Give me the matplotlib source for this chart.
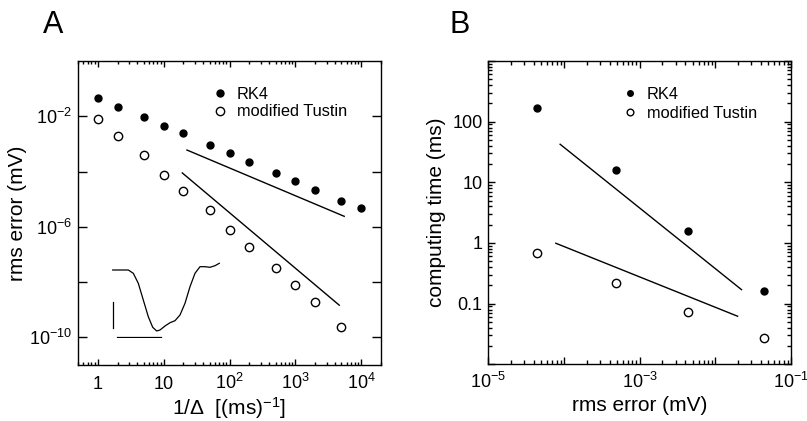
import matplotlib
matplotlib.use("Agg")
import matplotlib.pyplot as plt
from matplotlib.lines import Line2D
from matplotlib.ticker import FixedLocator, FixedFormatter, LogLocator, NullFormatter, NullLocator

plt.rcParams['font.family'] = ['Liberation Sans', 'DejaVu Sans']
plt.rcParams['mathtext.fontset'] = 'custom'
plt.rcParams['mathtext.rm'] = 'Liberation Sans'
plt.rcParams['mathtext.it'] = 'Liberation Sans:italic'
plt.rcParams['mathtext.bf'] = 'Liberation Sans:bold'
plt.rcParams['axes.linewidth'] = 1.0

# --- panel A: rms error vs 1/step ---
inv_dt = [1, 2, 5, 10, 20, 50, 100, 200, 500, 1000, 2000, 5000, 10000]
err_rk4 = [4.4e-2, 2.2e-2, 9.5e-3, 4.4e-3, 2.4e-3, 8.9e-4, 4.8e-4, 2.2e-4,
           8.7e-5, 4.4e-5, 2.2e-5, 8.9e-6, 5.0e-6]
inv_dt_tustin = [1, 2, 5, 10, 20, 50, 100, 200, 500, 1000, 2000, 5000]
err_tustin = [8.3e-3, 1.9e-3, 3.9e-4, 7.8e-5, 2.0e-5, 4.0e-6, 7.8e-7,
              1.9e-7, 3.2e-8, 7.6e-9, 1.9e-9, 2.3e-10]
fit_a_rk4_x = [22.6, 5525]
fit_a_rk4_y = [6.0e-4, 2.4e-6]
fit_a_tus_x = [19.2, 4645]
fit_a_tus_y = [8.9e-5, 1.46e-9]

# inset voltage trace (arbitrary units) and its scale bars
trace_t = [0, 15.6, 20.6, 25.6, 30.6, 35.6, 40, 44, 47.3, 52.3, 57.3, 62.3,
           67.3, 72.3, 77.3, 82.3, 87.3, 92.3, 97.3, 102.3, 106.6]
trace_v = [0, 0, -3.3, -13.3, -30, -46.7, -57.3, -61, -60, -56, -52.7, -50.7,
           -45, -33.3, -16.7, -3.3, 3.3, 3.3, 2.7, 4.3, 6.7]
vbar_t = [0.6, 0.6]
vbar_v = [-31.7, -58.3]
hbar_t = [4.6, 48]
hbar_v = [-67.3, -67.3]

# --- panel B: computing time vs rms error ---
b_err_rk4 = [4.4e-5, 4.8e-4, 4.4e-3, 4.4e-2]
b_time_rk4 = [170, 16.1, 1.6, 0.16]
b_err_tustin = [4.4e-5, 4.8e-4, 4.4e-3, 4.4e-2]
b_time_tustin = [0.68, 0.22, 0.074, 0.027]
fit_b_rk4_x = [8.9e-5, 2.22e-2]
fit_b_rk4_y = [42.4, 0.17]
fit_b_tus_x = [7.8e-5, 1.97e-2]
fit_b_tus_y = [0.99, 0.062]

W, H = 807, 421
fig = plt.figure(figsize=(W / 100, H / 100), dpi=100)


def box(l, t, r, b):
    return [l / W, 1 - b / H, (r - l) / W, (b - t) / H]


axA = fig.add_axes(box(78, 61, 381, 365))
axB = fig.add_axes(box(488.3, 61, 791, 364.3))

mk_fill = dict(marker='o', ms=5, color='black', ls='none', mec='black')
mk_open = dict(marker='o', ms=6, mfc='white', mec='black', mew=1.0, ls='none')

TICK_FS = 13
LABEL_FS = 15
LEG_FS = 11.8

# panel A
axA.plot(inv_dt, err_rk4, **mk_fill)
axA.plot(inv_dt_tustin, err_tustin, **mk_open)
axA.plot(fit_a_rk4_x, fit_a_rk4_y, color='black', lw=1.0)
axA.plot(fit_a_tus_x, fit_a_tus_y, color='black', lw=1.0)
axA.set_xscale('log')
axA.set_yscale('log')
axA.set_xlim(0.5, 2e4)
axA.set_ylim(1e-11, 1)
axA.xaxis.set_major_locator(FixedLocator([1, 10, 100, 1000, 10000]))
axA.xaxis.set_major_formatter(FixedFormatter(['1', '10', '$10^{2}$', '$10^{3}$', '$10^{4}$']))
axA.xaxis.set_minor_locator(LogLocator(base=10, subs=range(2, 10), numticks=20))
axA.xaxis.set_minor_formatter(NullFormatter())
axA.yaxis.set_major_locator(FixedLocator([1e-2, 1e-4, 1e-6, 1e-8, 1e-10]))
axA.yaxis.set_major_formatter(FixedFormatter(['$10^{-2}$', '', '$10^{-6}$', '', '$10^{-10}$']))
axA.yaxis.set_minor_locator(NullLocator())
axA.tick_params(axis='x', which='major', direction='in', length=4.5, width=1,
                top=True, labelsize=TICK_FS, pad=17)
axA.tick_params(axis='x', which='minor', direction='in', length=2.5, width=1, top=True)
axA.tick_params(axis='y', which='major', direction='in', length=6.5, width=1,
                right=True, labelsize=TICK_FS, pad=4)
plt.setp(axA.get_xticklabels(), va='baseline')
axA.set_xlabel(r'1/$\Delta$  [(ms)$^{-1}$]', fontsize=LABEL_FS, labelpad=2)
axA.set_ylabel('rms error (mV)', fontsize=LABEL_FS, labelpad=2)

legA = [Line2D([], [], **mk_fill), Line2D([], [], **mk_open)]
axA.legend(legA, ['RK4', 'modified Tustin'], loc='upper left', bbox_to_anchor=(0.445, 0.915),
           frameon=False, fontsize=LEG_FS, handlelength=0.9, handletextpad=0.55,
           labelspacing=0.15, borderaxespad=0, borderpad=0, numpoints=1)

# inset trace
axI = fig.add_axes(box(111.7, 262, 220.7, 338))
axI.plot(trace_t, trace_v, color='black', lw=0.9)
axI.plot(vbar_t, vbar_v, color='black', lw=0.9)
axI.plot(hbar_t, hbar_v, color='black', lw=0.9)
axI.set_xlim(-1, 108)
axI.set_ylim(-68, 8)
axI.axis('off')
axI.patch.set_alpha(0)

# panel B
axB.plot(b_err_rk4, b_time_rk4, **mk_fill)
axB.plot(b_err_tustin, b_time_tustin, **mk_open)
axB.plot(fit_b_rk4_x, fit_b_rk4_y, color='black', lw=1.0)
axB.plot(fit_b_tus_x, fit_b_tus_y, color='black', lw=1.0)
axB.set_xscale('log')
axB.set_yscale('log')
axB.set_xlim(1e-5, 1e-1)
axB.set_ylim(1e-2, 1e3)
axB.xaxis.set_major_locator(FixedLocator([1e-5, 1e-4, 1e-3, 1e-2, 1e-1]))
axB.xaxis.set_major_formatter(FixedFormatter(['$10^{-5}$', '', '$10^{-3}$', '', '$10^{-1}$']))
axB.xaxis.set_minor_locator(LogLocator(base=10, subs=range(2, 10), numticks=20))
axB.xaxis.set_minor_formatter(NullFormatter())
axB.yaxis.set_major_locator(FixedLocator([0.01, 0.1, 1, 10, 100, 1000]))
axB.yaxis.set_major_formatter(FixedFormatter(['', '0.1', '1', '10', '100', '']))
axB.yaxis.set_minor_locator(LogLocator(base=10, subs=range(2, 10), numticks=20))
axB.yaxis.set_minor_formatter(NullFormatter())
axB.tick_params(axis='both', which='major', direction='in', length=5, width=1,
                top=True, right=True, labelsize=TICK_FS)
axB.tick_params(axis='both', which='minor', direction='in', length=3, width=1,
                top=True, right=True)
axB.tick_params(axis='x', which='major', pad=17)
axB.tick_params(axis='y', which='major', pad=4)
plt.setp(axB.get_xticklabels(), va='baseline')
axB.set_xlabel('rms error (mV)', fontsize=LABEL_FS, labelpad=3)
axB.set_ylabel('computing time (ms)', fontsize=LABEL_FS, labelpad=5)

legB = [Line2D([], [], **mk_fill), Line2D([], [], **mk_open)]
axB.legend(legB, ['RK4', 'modified Tustin'], loc='upper left', bbox_to_anchor=(0.445, 0.915),
           frameon=False, fontsize=LEG_FS, handlelength=0.9, handletextpad=0.55,
           labelspacing=0.25, borderaxespad=0, borderpad=0, numpoints=1, markerscale=0.8)

fig.text(43 / W, 1 - 33 / H, 'A', fontsize=22)
fig.text(449 / W, 1 - 33 / H, 'B', fontsize=22)

fig.savefig('out.png', dpi=100)
